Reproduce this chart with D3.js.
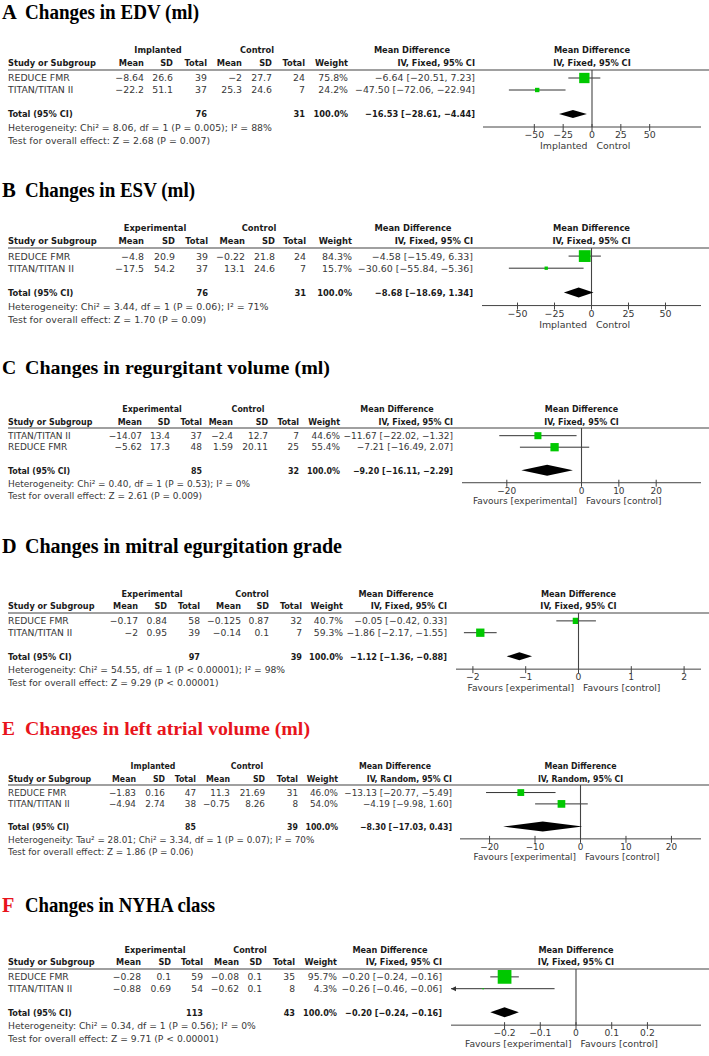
<!DOCTYPE html>
<html><head><meta charset="utf-8">
<script src="https://cdn.jsdelivr.net/npm/d3@7"></script>
<style>body{margin:0;background:#fff}</style>
</head><body>
<svg id="chart" width="709" height="1056"></svg>
<script>
// ---------------- DATA ----------------
const panelLetters = ["A","B","C","D","E","F"];
const panelTitles = ["Changes in EDV (ml)","Changes in ESV (ml)","Changes in regurgitant volume (ml)","Changes in mitral egurgitation grade","Changes in left atrial volume (ml)","Changes in NYHA class"];
const groupNames = [["Implanted","Control"],["Experimental","Control"],["Experimental","Control"],["Experimental","Control"],["Implanted","Control"],["Experimental","Control"]];
const methods = ["IV, Fixed, 95% CI","IV, Fixed, 95% CI","IV, Fixed, 95% CI","IV, Fixed, 95% CI","IV, Random, 95% CI","IV, Fixed, 95% CI"];
const studies = [["REDUCE FMR","TITAN/TITAN II"],["REDUCE FMR","TITAN/TITAN II"],["TITAN/TITAN II","REDUCE FMR"],["REDUCE FMR","TITAN/TITAN II"],["REDUCE FMR","TITAN/TITAN II"],["REDUCE FMR","TITAN/TITAN II"]];
const expMean = [[-8.64,-22.2],[-4.8,-17.5],[-14.07,-5.62],[-0.17,-2],[-1.83,-4.94],[-0.28,-0.88]];
const expSD   = [[26.6,51.1],[20.9,54.2],[13.4,17.3],[0.84,0.95],[0.16,2.74],[0.1,0.69]];
const expN    = [[39,37],[39,37],[37,48],[58,39],[47,38],[59,54]];
const ctlMean = [[-2,25.3],[-0.22,13.1],[-2.4,1.59],[-0.125,-0.14],[11.3,-0.75],[-0.08,-0.62]];
const ctlSD   = [[27.7,24.6],[21.8,24.6],[12.7,20.11],[0.87,0.1],[21.69,8.26],[0.1,0.1]];
const ctlN    = [[24,7],[24,7],[7,25],[32,7],[31,8],[35,8]];
const weights = [[75.8,24.2],[84.3,15.7],[44.6,55.4],[40.7,59.3],[46.0,54.0],[95.7,4.3]];
const mdEst   = [[-6.64,-47.50],[-4.58,-30.60],[-11.67,-7.21],[-0.05,-1.86],[-13.13,-4.19],[-0.20,-0.26]];
const mdLow   = [[-20.51,-72.06],[-15.49,-55.84],[-22.02,-16.49],[-0.42,-2.17],[-20.77,-9.98],[-0.24,-0.46]];
const mdHigh  = [[7.23,-22.94],[6.33,-5.36],[-1.32,2.07],[0.33,-1.55],[-5.49,1.60],[-0.16,-0.06]];
const totalExpN = [76,76,85,97,85,113];
const totalCtlN = [31,31,32,39,39,43];
const totalEst  = [-16.53,-8.68,-9.20,-1.12,-8.30,-0.20];
const totalLow  = [-28.61,-18.69,-16.11,-1.36,-17.03,-0.24];
const totalHigh = [-4.44,1.34,-2.29,-0.88,0.43,-0.16];
const heterogeneity = [
  "Heterogeneity: Chi² = 8.06, df = 1 (P = 0.005); I² = 88%",
  "Heterogeneity: Chi² = 3.44, df = 1 (P = 0.06); I² = 71%",
  "Heterogeneity: Chi² = 0.40, df = 1 (P = 0.53); I² = 0%",
  "Heterogeneity: Chi² = 54.55, df = 1 (P < 0.00001); I² = 98%",
  "Heterogeneity: Tau² = 28.01; Chi² = 3.34, df = 1 (P = 0.07); I² = 70%",
  "Heterogeneity: Chi² = 0.34, df = 1 (P = 0.56); I² = 0%"];
const overallEffect = [
  "Test for overall effect: Z = 2.68 (P = 0.007)",
  "Test for overall effect: Z = 1.70 (P = 0.09)",
  "Test for overall effect: Z = 2.61 (P = 0.009)",
  "Test for overall effect: Z = 9.29 (P < 0.00001)",
  "Test for overall effect: Z = 1.86 (P = 0.06)",
  "Test for overall effect: Z = 9.71 (P < 0.00001)"];
const axisTicks = [[-50,-25,0,25,50],[-50,-25,0,25,50],[-20,0,10,20],[-2,-1,0,1,2],[-20,-10,0,10,20],[-0.2,-0.1,0,0.1,0.2]];
const axisLimit = [94.5,74,32,2.32,26.5,0.35];
const favourLabels = [["Implanted","Control"],["Implanted","Control"],["Favours [experimental]","Favours [control]"],["Favours [experimental]","Favours [control]"],["Favours [experimental]","Favours [control]"],["Favours [experimental]","Favours [control]"]];

// ---------------- LAYOUT / STYLE ----------------
const titleBase = [19,197,374,553,735,912];
const titleWidth = [174,170,305,317,285,190];
const ruleY = [70,248,428,613,785,969];
const vScale = [1.0,1.01,0.96,0.985,0.945,0.985];
const colRight = [
  [144,173,207,242,272,305,348,475],
  [144,175,208,245,275,306,352,473],
  [142,170,202,233,268,299,340,453],
  [138,167,200,241,269,302,343,447],
  [136,165,196,230,265,298,338,452],
  [141,171,203,239,262,295,337,442]];
const groupCenter = [[158,257],[155,259],[152,248],[152,252],[153,247],[155,250]];
const mdHeaderX = [412,413,397,396,395,390];
const axisLeft = [483,482,462,456,460,451];
const axisRight = 701;
const diamondHalf = [4,5,5.5,4,5,5];
const boxMax = [12.7,13.4,12.9,12.3,12.2,14.2];
const letterColor = ["#000","#000","#000","#000","#e8141c","#e8141c"];
const titleColor = ["#000","#000","#000","#000","#e8141c","#000"];
const GREEN = "#00c800";
const SANS = "'DejaVu Sans', Verdana, sans-serif";
const SANS_B = "'DejaVu Sans Condensed', 'DejaVu Sans', sans-serif";

const fmt = v => String(v).replace("-", "\u2212");
const f2 = v => v.toFixed(2).replace("-", "\u2212");
const ci = (e,l,h) => `${f2(e)} [${f2(l)}, ${f2(h)}]`;

const svg = d3.select("#chart");

panelLetters.forEach((letter, i) => {
  const g = svg.append("g");
  const vs = vScale[i];
  const R = ruleY[i];
  const yc = off => R + off * vs;          // centre of a text line
  const yb = off => yc(off) + 3.4 * vs;    // baseline
  const fs = 9.35 * vs, fsb = 9.2 * vs;
  const cols = colRight[i];

  function txt(x, y, s, anchor, bold, fill) {
    return g.append("text").attr("x", x).attr("y", y)
      .attr("text-anchor", anchor || "start")
      .attr("font-family", bold ? SANS_B : SANS)
      .attr("font-weight", bold ? "bold" : "normal")
      .attr("font-stretch", bold ? "condensed" : "normal")
      .attr("font-size", bold ? fsb : fs)
      .attr("fill", fill || (bold ? "#1a1a1a" : "#383838"))
      .text(s);
  }

  // title
  const t = g.append("text").attr("y", titleBase[i])
    .attr("font-family", "'Liberation Serif', 'Times New Roman', serif")
    .attr("font-weight", "bold").attr("font-size", 20.5 * vs);
  t.append("tspan").attr("x", 2).attr("fill", letterColor[i]).text(letter);
  t.append("tspan").attr("x", 25).attr("fill", titleColor[i])
    .attr("textLength", titleWidth[i]).attr("lengthAdjust", "spacingAndGlyphs")
    .text(panelTitles[i]);

  // headers
  txt(groupCenter[i][0], yb(-20), groupNames[i][0], "middle", true);
  txt(groupCenter[i][1], yb(-20), groupNames[i][1], "middle", true);
  txt(mdHeaderX[i], yb(-20), "Mean Difference", "middle", true);
  txt(8, yb(-7), "Study or Subgroup", "start", true);
  ["Mean","SD","Total","Mean","SD","Total","Weight"].forEach((h, k) => txt(cols[k], yb(-7), h, "end", true));
  txt(cols[7], yb(-7), methods[i], "end", true);

  // scale
  const x = d3.scaleLinear().domain([-axisLimit[i], axisLimit[i]]).range([axisLeft[i], axisRight]);
  const zx = x(0);
  txt(zx, yb(-20), "Mean Difference", "middle", true);
  txt(zx, yb(-7), methods[i], "middle", true);

  // rule
  g.append("line").attr("x1", 8).attr("x2", 709).attr("y1", R).attr("y2", R)
    .attr("stroke", "#808080").attr("stroke-width", 1.3);

  // study rows
  const rowOff = [8, 20];
  const boxScale = d3.scalePow().exponent(0.75).domain([0, 100]).range([0, boxMax[i]]);
  studies[i].forEach((name, k) => {
    const yb_ = yb(rowOff[k]);
    txt(8, yb_, name);
    txt(cols[0], yb_, fmt(expMean[i][k]), "end");
    txt(cols[1], yb_, fmt(expSD[i][k]), "end");
    txt(cols[2], yb_, fmt(expN[i][k]), "end");
    txt(cols[3], yb_, fmt(ctlMean[i][k]), "end");
    txt(cols[4], yb_, fmt(ctlSD[i][k]), "end");
    txt(cols[5], yb_, fmt(ctlN[i][k]), "end");
    txt(cols[6], yb_, weights[i][k].toFixed(1) + "%", "end");
    txt(cols[7], yb_, ci(mdEst[i][k], mdLow[i][k], mdHigh[i][k]), "end");

    const y = yc(rowOff[k]);
    const lo = Math.max(mdLow[i][k], -axisLimit[i]);
    const hi = Math.min(mdHigh[i][k], axisLimit[i]);
    g.append("line").attr("x1", x(lo)).attr("x2", x(hi)).attr("y1", y).attr("y2", y)
      .attr("stroke", "#333").attr("stroke-width", 1);
    if (mdLow[i][k] < -axisLimit[i]) {
      const L = x(-axisLimit[i]);
      g.append("path").attr("d", `M${L},${y}L${L+5},${y-2.5}L${L+5},${y+2.5}Z`).attr("fill", "#333");
    }
    if (mdHigh[i][k] > axisLimit[i]) {
      const Rr = x(axisLimit[i]);
      g.append("path").attr("d", `M${Rr},${y}L${Rr-5},${y-2.5}L${Rr-5},${y+2.5}Z`).attr("fill", "#333");
    }
    const s = Math.max(1.2, boxScale(weights[i][k]));
    g.append("rect").attr("x", x(mdEst[i][k]) - s / 2).attr("y", y - s / 2)
      .attr("width", s).attr("height", s).attr("fill", GREEN);
  });

  // total row
  const ybt = yb(44);
  txt(8, ybt, "Total (95% CI)", "start", true);
  txt(cols[2], ybt, String(totalExpN[i]), "end", true);
  txt(cols[5], ybt, String(totalCtlN[i]), "end", true);
  txt(cols[6], ybt, "100.0%", "end", true);
  txt(cols[7], ybt, ci(totalEst[i], totalLow[i], totalHigh[i]), "end", true);
  txt(8, yb(58), heterogeneity[i]);
  txt(8, yb(71), overallEffect[i]);

  // zero line & axis
  const ay = yc(57);
  g.append("line").attr("x1", zx).attr("x2", zx).attr("y1", R).attr("y2", ay)
    .attr("stroke", "#444").attr("stroke-width", 1.1);
  g.append("line").attr("x1", axisLeft[i]).attr("x2", axisRight).attr("y1", ay).attr("y2", ay)
    .attr("stroke", "#444").attr("stroke-width", 1);
  axisTicks[i].forEach(tv => {
    g.append("line").attr("x1", x(tv)).attr("x2", x(tv)).attr("y1", ay - 3).attr("y2", ay + 4)
      .attr("stroke", "#444").attr("stroke-width", 1);
    txt(x(tv), yb(65), fmt(tv), "middle");
  });
  txt(zx - 4.5, yb(76), favourLabels[i][0], "end");
  txt(zx + 4.5, yb(76), favourLabels[i][1], "start");

  // diamond
  const dy = yc(44), h = diamondHalf[i];
  g.append("path")
    .attr("d", `M${x(totalLow[i])},${dy}L${x(totalEst[i])},${dy - h}L${x(totalHigh[i])},${dy}L${x(totalEst[i])},${dy + h}Z`)
    .attr("fill", "#000");
});
</script>
</body></html>
